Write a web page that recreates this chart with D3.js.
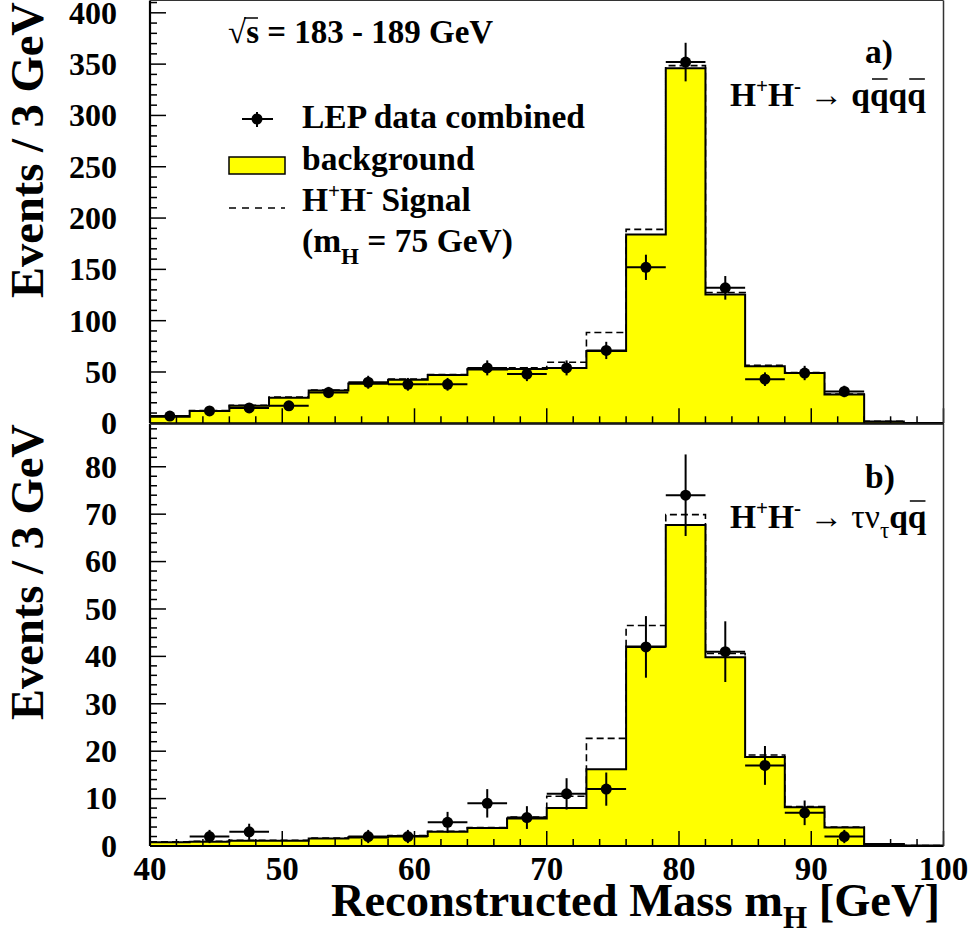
<!DOCTYPE html>
<html>
<head>
<meta charset="utf-8">
<script src="https://d3js.org/d3.v7.min.js"></script>
<style>
  body { margin: 0; background: #fff; }
  svg text { font-family: "Liberation Serif", Tinos, "DejaVu Serif", serif; }
</style>
</head>
<body>
<div id="chart"></div>
<script>
// lower edge of each 3 GeV bin
var binLow = [40, 43, 46, 49, 52, 55, 58, 61, 64, 67, 70, 73, 76, 79, 82, 85, 88, 91, 94, 97];
var binWidth = 3;

// panel a) H+H- -> qqqq
var bgA   = [6.5, 12, 17, 25, 32, 38.5, 42.5, 47, 52.5, 53, 54, 70.5, 184, 346, 125.5, 55.5, 49, 28, 1.8, 0.3];
var sigA  = [7, 12.5, 17.5, 25.5, 32.5, 39, 43, 47.5, 53, 54, 59.5, 88.5, 189, 348.5, 127.5, 56.5, 49.5, 28.5, 2, 0.3];
var dataA = [7, 12, 15, 17, 30, 40, 38, 38, 54, 48, 54, 71, 152, 352, 132, 43, 49, 31, null, null];
var errA  = [2.6, 3.5, 3.9, 4.1, 5.5, 6.3, 6.2, 6.2, 7.3, 6.9, 7.3, 8.4, 12.3, 18.8, 11.5, 6.6, 7, 5.6, null, null];

// panel b) H+H- -> tau nu qq
var bgB   = [0.8, 0.9, 1.1, 1.1, 1.6, 1.8, 2.1, 3.0, 3.8, 5.8, 8.0, 16.2, 42.1, 67.7, 39.8, 18.8, 8.2, 3.9, 0.4, 0.1];
var sigB  = [0.9, 1.0, 1.2, 1.2, 1.7, 1.9, 2.2, 3.1, 3.9, 6.1, 10.5, 22.7, 46.5, 69.9, 40.6, 19.2, 8.3, 4.0, 0.4, 0.1];
var dataB = [null, 2, 3, null, null, 2, 2, 5, 9, 6, 11, 12, 42, 74, 41, 17, 7, 2, null, null];
var errB  = [null, 1.4, 1.7, null, null, 1.4, 1.4, 2.2, 3, 2.4, 3.3, 3.5, 6.5, 8.6, 6.4, 4.1, 2.6, 1.4, null, null];

var xTicksMajor = [40, 50, 60, 70, 80, 90, 100];
var yTicksA = [0, 50, 100, 150, 200, 250, 300, 350, 400];
var yTicksB = [0, 10, 20, 30, 40, 50, 60, 70, 80];

var W = 974, H = 944;
var svg = d3.select("#chart").append("svg")
  .attr("width", W).attr("height", H)
  .attr("font-weight", "bold")
  .style("background", "#fff");

var x = d3.scaleLinear().domain([40, 100]).range([150, 943.5]);
var yA = d3.scaleLinear().domain([0, 412]).range([423.3, 0.5]);
var yB = d3.scaleLinear().domain([0, 89]).range([846, 424.1]);

function drawPanel(y, bg, sig, data, err, minorStep, majorStep, ticks) {
  var g = svg.append("g");
  var pts = function (vals) {
    var p = binLow.map(function (lo, i) { return [lo, vals[i]]; });
    p.push([binLow[binLow.length - 1] + binWidth, vals[vals.length - 1]]);
    return p;
  };

  // signal + background (dashed), drawn under the background fill
  g.append("path")
    .datum(pts(sig))
    .attr("fill", "none")
    .attr("stroke", "#000")
    .attr("stroke-width", 1.6)
    .attr("stroke-dasharray", "7,4")
    .attr("d", d3.line().curve(d3.curveStepAfter)
      .x(function (d) { return x(d[0]); })
      .y(function (d) { return y(d[1]); }));

  // background histogram
  g.append("path")
    .datum(pts(bg))
    .attr("fill", "#ffff00")
    .attr("stroke", "none")
    .attr("d", d3.area().curve(d3.curveStepAfter)
      .x(function (d) { return x(d[0]); })
      .y0(y(0))
      .y1(function (d) { return y(d[1]); }));
  g.append("path")
    .datum(pts(bg))
    .attr("fill", "none")
    .attr("stroke", "#000")
    .attr("stroke-width", 2)
    .attr("d", d3.line().curve(d3.curveStepAfter)
      .x(function (d) { return x(d[0]); })
      .y(function (d) { return y(d[1]); }));

  // x ticks (inside, pointing up)
  var xt = d3.range(40, 100.1, 2);
  g.selectAll(".xt").data(xt).enter().append("line")
    .attr("x1", function (d) { return x(d); })
    .attr("x2", function (d) { return x(d); })
    .attr("y1", y(0))
    .attr("y2", function (d) { return y(0) - (d % 10 === 0 ? 15 : 7); })
    .attr("stroke", "#000").attr("stroke-width", 1.5);

  // y ticks (inside, pointing right)
  var top = y.domain()[1];
  var yt = d3.range(0, top + 0.01, minorStep);
  g.selectAll(".yt").data(yt).enter().append("line")
    .attr("x1", x(40))
    .attr("x2", function (d) { return x(40) + (Math.abs(d % majorStep) < 1e-6 ? 16 : 7); })
    .attr("y1", function (d) { return y(d); })
    .attr("y2", function (d) { return y(d); })
    .attr("stroke", "#000").attr("stroke-width", 1.5);

  g.selectAll(".yl").data(ticks).enter().append("text")
    .attr("x", 117)
    .attr("y", function (d) { return y(d); })
    .attr("dy", "0.34em")
    .attr("text-anchor", "end")
    .attr("font-size", 32)
    .text(function (d) { return d; });

  // frame
  g.append("line").attr("x1", x(40)).attr("x2", x(100)).attr("y1", y(0)).attr("y2", y(0))
    .attr("stroke", "#000").attr("stroke-width", 2.2);
  g.append("line").attr("x1", x(40)).attr("x2", x(40)).attr("y1", y(0)).attr("y2", y(top))
    .attr("stroke", "#000").attr("stroke-width", 2.2);
  g.append("line").attr("x1", x(100)).attr("x2", x(100)).attr("y1", y(0)).attr("y2", y(top))
    .attr("stroke", "#333").attr("stroke-width", 1.5);
  g.append("line").attr("x1", x(40)).attr("x2", x(100)).attr("y1", y(top)).attr("y2", y(top))
    .attr("stroke", "#333").attr("stroke-width", 1.2);

  // data points with error bars
  var pts2 = binLow.map(function (lo, i) { return { lo: lo, v: data[i], e: err[i] }; })
    .filter(function (d) { return d.v !== null; });
  var dp = g.selectAll(".dp").data(pts2).enter().append("g");
  dp.append("line")
    .attr("x1", function (d) { return x(d.lo); })
    .attr("x2", function (d) { return x(d.lo + binWidth); })
    .attr("y1", function (d) { return y(d.v); })
    .attr("y2", function (d) { return y(d.v); })
    .attr("stroke", "#000").attr("stroke-width", 2);
  dp.append("line")
    .attr("x1", function (d) { return x(d.lo + binWidth / 2); })
    .attr("x2", function (d) { return x(d.lo + binWidth / 2); })
    .attr("y1", function (d) { return y(d.v - d.e); })
    .attr("y2", function (d) { return y(d.v + d.e); })
    .attr("stroke", "#000").attr("stroke-width", 2);
  dp.append("circle")
    .attr("cx", function (d) { return x(d.lo + binWidth / 2); })
    .attr("cy", function (d) { return y(d.v); })
    .attr("r", 5.5)
    .attr("fill", "#000");
  return g;
}

drawPanel(yA, bgA, sigA, dataA, errA, 10, 50, yTicksA);
drawPanel(yB, bgB, sigB, dataB, errB, 2, 10, yTicksB);

// x tick labels
svg.selectAll(".xl").data(xTicksMajor).enter().append("text")
  .attr("x", function (d) { return x(d); })
  .attr("y", 880)
  .attr("text-anchor", "middle")
  .attr("font-size", 33)
  .text(function (d) { return d; });

// axis titles
var xt = svg.append("text")
  .attr("x", 940).attr("y", 916)
  .attr("text-anchor", "end")
  .attr("font-size", 46.5);
xt.append("tspan").text("Reconstructed Mass m");
xt.append("tspan").attr("dy", 12).attr("font-size", 31).text("H");
xt.append("tspan").attr("dy", -12).text(" [GeV]");

[150, 572].forEach(function (cy) {
  svg.append("text")
    .attr("transform", "translate(43," + cy + ") rotate(-90)")
    .attr("text-anchor", "middle")
    .attr("font-size", 46.5)
    .text("Events / 3 GeV");
});

// bar over the char at index i of a text element
function overbar(t, i, dyTop, x0) {
  var node = t.node();
  var b = node.getExtentOfChar(i);
  svg.append("line")
    .attr("x1", x0 !== undefined ? x0 : b.x + 2).attr("x2", b.x + b.width - 1)
    .attr("y1", dyTop).attr("y2", dyTop)
    .attr("stroke", "#000").attr("stroke-width", 1.5);
}

// energy label
var en = svg.append("text").attr("x", 228).attr("y", 43).attr("font-size", 33);
en.append("tspan").attr("font-weight", "normal").text("\u221A");
en.append("tspan").text("s");
en.append("tspan").text(" = 183 - 189 GeV");
var rb = en.node().getExtentOfChar(0);
overbar(en, 1, 18, rb.x + rb.width - 2);

// legend
var lg = svg.append("g");
lg.append("line").attr("x1", 242).attr("x2", 273).attr("y1", 119).attr("y2", 119)
  .attr("stroke", "#000").attr("stroke-width", 2);
lg.append("line").attr("x1", 257).attr("x2", 257).attr("y1", 112).attr("y2", 127)
  .attr("stroke", "#000").attr("stroke-width", 2);
lg.append("circle").attr("cx", 257).attr("cy", 119).attr("r", 5.5).attr("fill", "#000");
lg.append("rect").attr("x", 229).attr("y", 157).attr("width", 56).attr("height", 17)
  .attr("fill", "#ffff00").attr("stroke", "#000").attr("stroke-width", 1.5);
lg.append("line").attr("x1", 229).attr("x2", 285).attr("y1", 208).attr("y2", 208)
  .attr("stroke", "#000").attr("stroke-width", 1.3).attr("stroke-dasharray", "7,6");

var LF = 33.5;
lg.append("text").attr("x", 302).attr("y", 128).attr("font-size", LF).text("LEP data combined");
lg.append("text").attr("x", 302).attr("y", 170).attr("font-size", LF).text("background");
var sl = lg.append("text").attr("x", 302).attr("y", 211).attr("font-size", LF);
sl.append("tspan").text("H");
sl.append("tspan").attr("dy", -13).attr("font-size", 21).text("+");
sl.append("tspan").attr("dy", 13).text("H");
sl.append("tspan").attr("dy", -13).attr("font-size", 21).text("-");
sl.append("tspan").attr("dy", 13).text(" Signal");
var ml = lg.append("text").attr("x", 302).attr("y", 252).attr("font-size", LF);
ml.append("tspan").text("(m");
ml.append("tspan").attr("dy", 12).attr("font-size", 23).text("H");
ml.append("tspan").attr("dy", -12).text(" = 75 GeV)");

// panel labels
svg.append("text").attr("x", 865).attr("y", 63).attr("font-size", LF).text("a)");
svg.append("text").attr("x", 865).attr("y", 488).attr("font-size", LF).text("b)");

function hh(t) {
  t.append("tspan").text("H");
  t.append("tspan").attr("dy", -13).attr("font-size", 21).text("+");
  t.append("tspan").attr("dy", 13).text("H");
  t.append("tspan").attr("dy", -13).attr("font-size", 21).text("-");
  t.append("tspan").attr("dy", 13).attr("font-weight", "normal").text(" \u2192 ");
}
var fa = svg.append("text").attr("x", 730).attr("y", 106).attr("font-size", LF);
hh(fa);
fa.append("tspan").text("qqqq");
// chars: H + H - space arrow space q q q q -> indices 7..10
overbar(fa, 8, 79);
overbar(fa, 10, 79);

var fb = svg.append("text").attr("x", 730).attr("y", 528).attr("font-size", LF);
hh(fb);
fb.append("tspan").attr("font-weight", "normal").text("\u03C4\u03BD");
fb.append("tspan").attr("dy", 10).attr("font-size", 23).attr("font-weight", "normal").text("\u03C4");
fb.append("tspan").attr("dy", -10).text("qq");
overbar(fb, 11, 501);
</script>
</body>
</html>
